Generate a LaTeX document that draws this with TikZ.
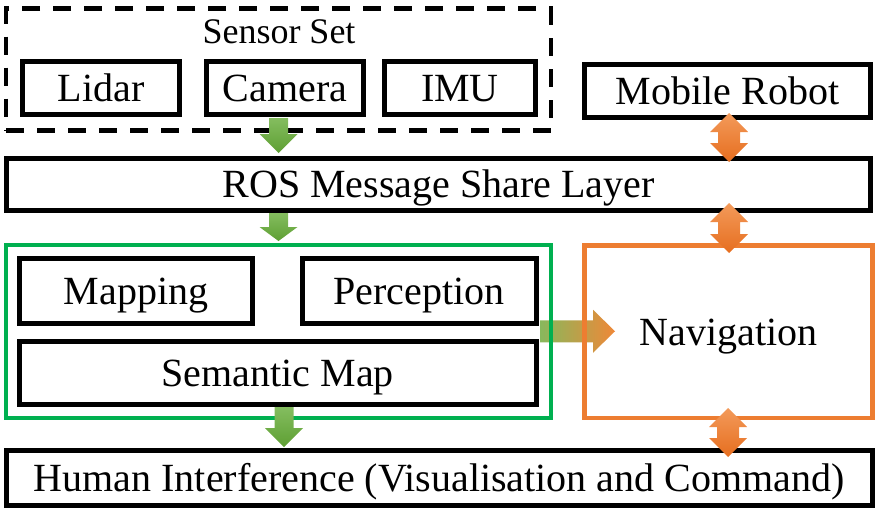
\documentclass[tikz,border=0pt]{standalone}
\usepackage{fontspec}
\setmainfont{Liberation Serif}
\usetikzlibrary{calc}
\pgfdeclarelayer{bg}
\pgfsetlayers{bg,main}
\definecolor{gline}{HTML}{00B050}
\definecolor{oline}{HTML}{ED7D31}
\definecolor{gat}{HTML}{84BD5F}
\definecolor{gab}{HTML}{5E9F33}
\definecolor{oat}{HTML}{F39A5A}
\definecolor{oab}{HTML}{E66E1F}
\definecolor{hl}{HTML}{88B85C}
\definecolor{hr}{HTML}{EF8838}
\tikzset{
  box/.style={draw=black, line width=5pt, inner sep=0pt, outer sep=0pt,
    font=\fontsize{40}{48}\selectfont, text height=26.5pt, text depth=0pt},
  frame/.style={line width=4.5pt, inner sep=0pt, outer sep=0pt},
}
\newcommand\gdown[3]{% start, tip, head length
  \shade[top color=gat, bottom color=gab] let \p1=(#1), \p2=(#2) in
    (\x1-9.5pt,\y1) -- (\x1+9.5pt,\y1) -- (\x1+9.5pt,\y2+#3) -- (\x1+19pt,\y2+#3)
    -- (\x1,\y2) -- (\x1-19pt,\y2+#3) -- (\x1-9.5pt,\y2+#3) -- cycle;}
\newcommand\odouble[2]{% top tip, bottom tip
  \shade[top color=oat, bottom color=oab] let \p1=(#1), \p2=(#2) in
    (\x1,\y1) -- (\x1+19pt,\y1-19pt) -- (\x1+11pt,\y1-19pt) -- (\x1+11pt,\y2+19pt)
    -- (\x1+19pt,\y2+19pt) -- (\x1,\y2) -- (\x1-19pt,\y2+19pt) -- (\x1-11pt,\y2+19pt)
    -- (\x1-11pt,\y1-19pt) -- (\x1-19pt,\y1-19pt) -- cycle;}
\begin{document}
\begin{tikzpicture}[x=1pt,y=-1pt]
\useasboundingbox (0,0) rectangle (880,514);
% sensor set
\node[frame, draw=black, dash pattern=on 18pt off 13pt, minimum width=545pt, minimum height=122pt] (sensorset) at (278.5,69.5) {};
\node[inner sep=0pt, font=\fontsize{36}{43}\selectfont, text height=23.8pt, text depth=0pt] (sslabel) at (279,31.5) {Sensor Set};
\node[box, minimum width=157pt, minimum height=53pt] (lidar) at (101,88) {Lidar};
\node[box, minimum width=157pt, minimum height=53pt] (camera) at (285,88) {Camera};
\node[box, minimum width=151pt, minimum height=53pt] (imu) at (460,88) {IMU};
\node[box, minimum width=286pt, minimum height=53pt] (mobile) at (727.5,91) {Mobile Robot};
% ROS layer
\node[box, minimum width=864pt, minimum height=52pt] (ros) at (438.5,184.5) {ROS Message Share Layer};
% green group
\node[frame, draw=gline, line width=4pt, minimum width=545pt, minimum height=172.5pt] (green) at (278.5,331.25) {};
\node[box, minimum width=233pt, minimum height=65pt] (mapping) at (136,291) {Mapping};
\node[box, minimum width=234pt, minimum height=65pt] (perception) at (419,291) {Perception};
\node[box, minimum width=516.5pt, minimum height=63pt] (semantic) at (277.75,373) {Semantic Map};
% navigation
\node[frame, draw=oline, minimum width=288pt, minimum height=172.5pt, font=\fontsize{40}{48}\selectfont, text height=26.5pt, text depth=0pt] (nav) at (728.5,331.75) {Navigation};
% human
\node[box, minimum width=865.5pt, minimum height=55pt] (human) at (439.25,478) {Human Interference (Visualisation and Command)};
% gradient arrow behind the frames
\begin{pgfonlayer}{bg}
\shade[left color=hl, right color=hr] let \p1=($(green.east)+(-11,0)$), \p2=($(nav.west)+(30.5,0)$) in
  (\x1,\y1+11pt) -- (\x2-22pt,\y1+11pt) -- (\x2-22pt,\y1+21.5pt) -- (\x2,\y1)
  -- (\x2-22pt,\y1-21.5pt) -- (\x2-22pt,\y1-11pt) -- (\x1,\y1-11pt) -- cycle;
\end{pgfonlayer}
% green arrows
\coordinate (g1s) at ($(sensorset.south)+(0,-12.5)$);
\coordinate (g1e) at ($(ros.north -| sensorset.south)+(0,-5.5)$);
\gdown{g1s}{g1e}{19pt}
\coordinate (g2s) at ($(ros.south -| green.north)+(0,2.5)$);
\coordinate (g2e) at ($(green.north)+(0,-4)$);
\gdown{g2s}{g2e}{14pt}
\coordinate (g3s) at ($(semantic.south)+(6.25,2.5)$);
\coordinate (g3e) at ($(human.north -| g3s)+(0,-3.5)$);
\gdown{g3s}{g3e}{19pt}
% orange double arrows
\coordinate (o1a) at ($(mobile.south)+(1.5,-4.5)$);
\coordinate (o1b) at ($(ros.north -| o1a)+(0,3.5)$);
\odouble{o1a}{o1b}
\coordinate (o2a) at ($(ros.south -| o1a)+(0,-7.5)$);
\coordinate (o2b) at ($(nav.north -| o1a)+(0,7.5)$);
\odouble{o2a}{o2b}
\coordinate (o3a) at ($(nav.south)+(-0.5,-10)$);
\coordinate (o3b) at ($(human.north -| o3a)+(0,6.5)$);
\odouble{o3a}{o3b}
\end{tikzpicture}
\end{document}
